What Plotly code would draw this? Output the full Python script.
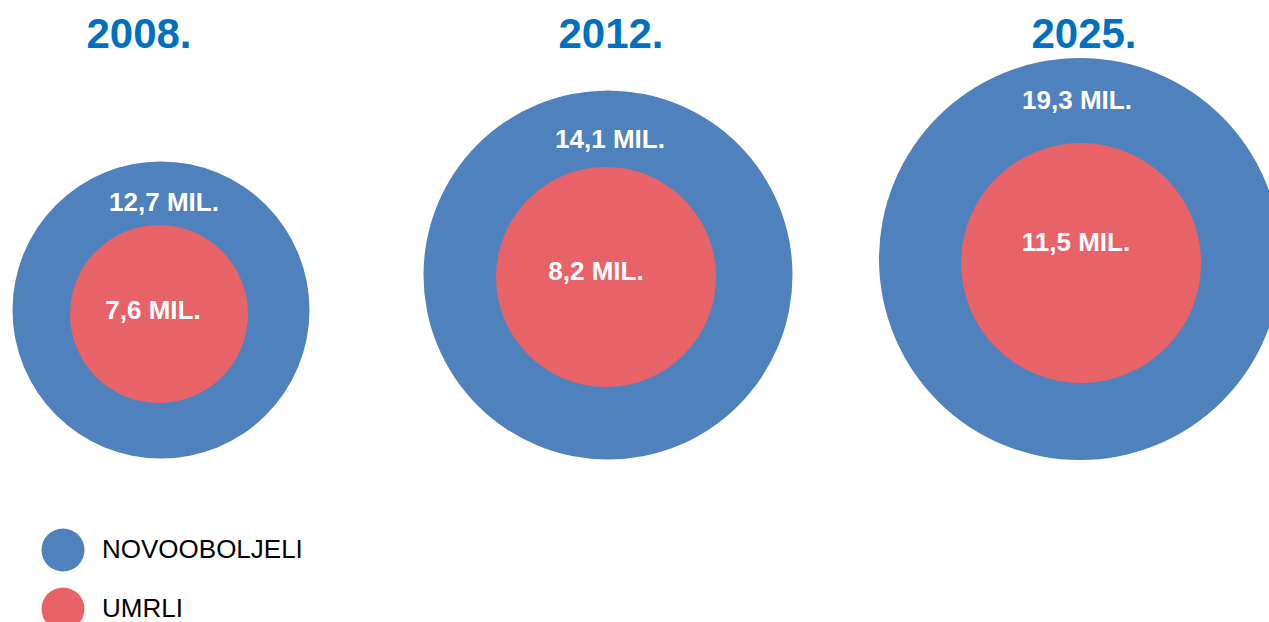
import plotly.graph_objects as go

# ---- data ----
years = ["2008.", "2012.", "2025."]
novooboljeli = [12.7, 14.1, 19.3]   # million new cases
umrli = [7.6, 8.2, 11.5]            # million deaths
legend_labels = ["NOVOOBOLJELI", "UMRLI"]

# ---- layout / style (pixel space) ----
W, H = 1269, 622
BLUE = "#4F81BD"
RED = "#E86367"
YEAR_COLOR = "#0070C0"
FONT = "Liberation Sans, Arial, sans-serif"

outer_x = [161, 608, 1080]
outer_y = [310, 275, 259]
outer_size = [297, 369, 402]
inner_x = [159, 606, 1081]
inner_y = [314, 277, 263]
inner_size = [178, 220, 240]

year_x = [139, 611, 1084]
year_y = [37, 37, 37]
outer_lbl_x = [164, 610, 1077]
outer_lbl_y = [204, 141, 102]
inner_lbl_x = [153, 596, 1076]
inner_lbl_y = [312, 273, 244]

leg_marker_x = [63, 63]
leg_y = [550, 609]
leg_text_x = 102
leg_size = 43


def fmt(v):
    return f"{v:.1f}".replace(".", ",") + " MIL."


fig = go.Figure()

fig.add_trace(go.Scatter(
    x=outer_x, y=outer_y, mode="markers",
    marker=dict(size=outer_size, color=BLUE, line=dict(width=0), opacity=1),
    hoverinfo="skip", showlegend=False))
fig.add_trace(go.Scatter(
    x=inner_x, y=inner_y, mode="markers",
    marker=dict(size=inner_size, color=RED, line=dict(width=0), opacity=1),
    hoverinfo="skip", showlegend=False))

# value labels
fig.add_trace(go.Scatter(
    x=outer_lbl_x, y=outer_lbl_y, mode="text",
    text=[fmt(v) for v in novooboljeli], textposition="middle center",
    textfont=dict(family=FONT, size=26, color="white", weight="bold"),
    hoverinfo="skip", showlegend=False))
fig.add_trace(go.Scatter(
    x=inner_lbl_x, y=inner_lbl_y, mode="text",
    text=[fmt(v) for v in umrli], textposition="middle center",
    textfont=dict(family=FONT, size=26, color="white", weight="bold"),
    hoverinfo="skip", showlegend=False))

# year titles
fig.add_trace(go.Scatter(
    x=year_x, y=year_y, mode="text", text=years,
    textposition="middle center",
    textfont=dict(family=FONT, size=42, color=YEAR_COLOR, weight="bold"),
    hoverinfo="skip", showlegend=False))

# custom legend
fig.add_trace(go.Scatter(
    x=leg_marker_x, y=leg_y, mode="markers",
    marker=dict(size=leg_size, color=[BLUE, RED], line=dict(width=0)),
    hoverinfo="skip", showlegend=False))
fig.add_trace(go.Scatter(
    x=[leg_text_x] * len(legend_labels), y=[v + 1 for v in leg_y], mode="text",
    text=legend_labels, textposition="middle right",
    textfont=dict(family=FONT, size=26, color="black"),
    hoverinfo="skip", showlegend=False))

fig.update_layout(
    width=W, height=H,
    margin=dict(l=0, r=0, t=0, b=0),
    paper_bgcolor="white", plot_bgcolor="white",
    xaxis=dict(range=[0, W], visible=False, fixedrange=True),
    yaxis=dict(range=[H, 0], visible=False, fixedrange=True),
    showlegend=False,
)

fig.write_html(
    "out.html",
    config={"displayModeBar": False},
    post_script="document.body.style.margin='0';document.body.style.overflow='hidden';",
)
